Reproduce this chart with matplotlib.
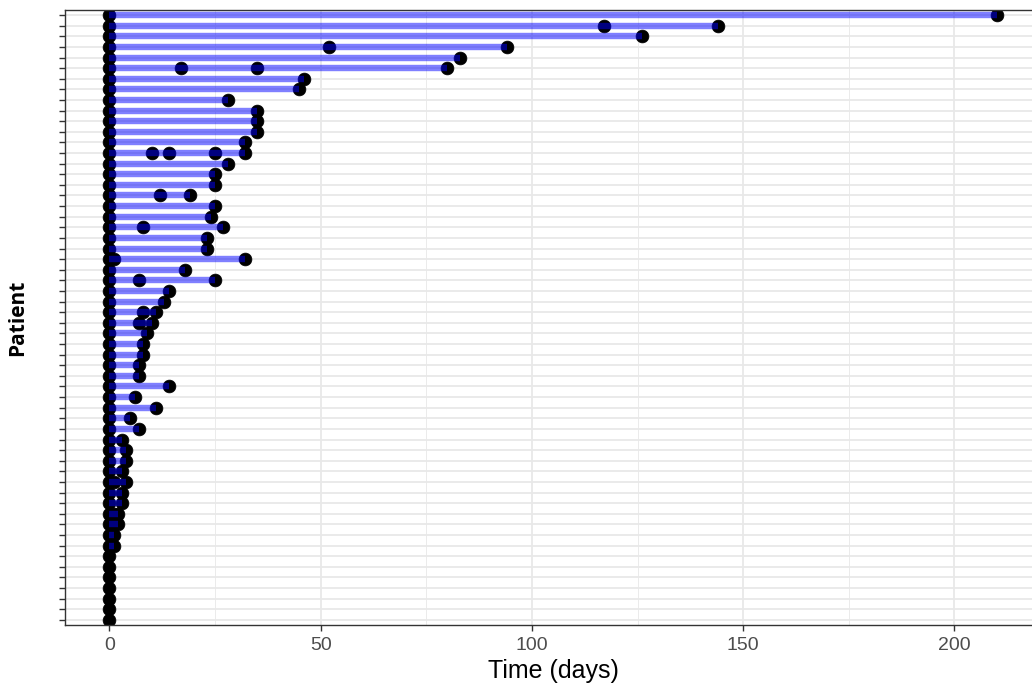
import matplotlib
matplotlib.use("Agg")
import matplotlib.pyplot as plt
import numpy as np

# Event times (days) per patient, top row first; every patient also has an event at day 0
event_days = [
    [210], [117, 144], [126], [52, 94], [83], [17, 35, 80], [46], [45], [28], [35],
    [35], [35], [32], [10, 14, 25, 32], [28], [25], [25], [12, 19], [25], [24],
    [8, 27], [23], [23], [1, 32], [18], [7, 25], [14], [13], [8, 11], [7, 10],
    [9], [8], [8], [7], [7], [14], [6], [11], [5], [7],
    [3], [4], [4], [3], [1, 4], [3], [3], [1, 2], [1, 2], [1],
    [1], [], [], [], [], [], [], [],
]
x_ticks = [0, 50, 100, 150, 200]
x_minor = [25, 75, 125, 175]

n = len(event_days)
fig = plt.figure(figsize=(10.32, 6.92), dpi=100)
W, H = 1032, 692
left, right, top, bottom = 65, 1041, 10, 625
ax = fig.add_axes([left / W, 1 - bottom / H, (right - left) / W, (bottom - top) / H])

rows = np.arange(n)
for i, ev in enumerate(event_days):
    times = [0] + ev
    tmax = max(times)
    ax.scatter(times, [i] * len(times), s=85, color="black",
               edgecolors="black", linewidths=0.5, zorder=2)
    if tmax > 0:
        ax.plot([0, tmax], [i, i], color=(0.0, 0.0, 1.0, 0.5), lw=4.6,
                solid_capstyle="butt", zorder=3)

ax.set_xticks(x_ticks)
ax.set_xticks(x_minor, minor=True)
ax.set_yticks(rows)
ax.set_yticklabels([])
ax.set_xlim(-10.5, 220.5)
ax.set_ylim(n - 1 + 0.48, -0.48)
ax.grid(True, which="major", color="#e8e8e8", lw=1.3, zorder=0)
ax.grid(True, which="minor", axis="x", color="#ebebeb", lw=0.7, zorder=0)
ax.set_axisbelow(True)
for s in ax.spines.values():
    s.set_color("#333333")
    s.set_linewidth(1.0)
ax.tick_params(axis="both", which="major", color="#333333", length=4, width=1,
               labelsize=14, labelcolor="#4d4d4d", pad=5)
ax.tick_params(axis="x", which="minor", length=0)
for lab in ax.get_xticklabels():
    lab.set_family("Liberation Sans")

ax.set_xlabel("Time (days)", fontsize=18, family="Liberation Sans", labelpad=3)
ax.set_ylabel("Patient", fontsize=15, family="Open Sans", fontweight="bold")
ax.yaxis.set_label_coords(-(left - 28) / (right - left), 0.5)

fig.savefig("out.png", dpi=100)
